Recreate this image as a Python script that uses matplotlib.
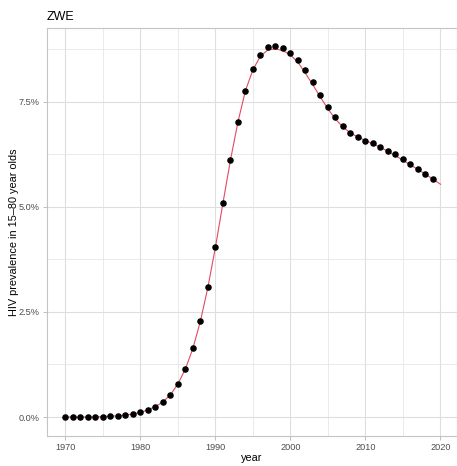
import matplotlib
matplotlib.use("Agg")
import matplotlib.pyplot as plt
from matplotlib.ticker import FuncFormatter, MultipleLocator

plt.rcParams["font.family"] = ["Liberation Sans", "DejaVu Sans"]

country = "ZWE"

# observed prevalence (%), one point per year
obs_years = list(range(1970, 2020))
obs_prev = [0.00, 0.00, 0.00, 0.00, 0.00, 0.01, 0.02, 0.03, 0.05, 0.07,
            0.11, 0.17, 0.25, 0.36, 0.53, 0.79, 1.15, 1.64, 2.29, 3.10,
            4.05, 5.10, 6.12, 7.03, 7.77, 8.29, 8.62, 8.80, 8.83, 8.78,
            8.67, 8.49, 8.25, 7.98, 7.67, 7.38, 7.13, 6.93, 6.76, 6.66,
            6.58, 6.51, 6.43, 6.34, 6.25, 6.13, 6.02, 5.91, 5.79, 5.67]

# fitted curve (%)
fit_years = list(range(1970, 2021))
fit_prev = [0.00, 0.00, 0.00, 0.00, 0.00, 0.01, 0.02, 0.03, 0.05, 0.07,
            0.11, 0.17, 0.25, 0.36, 0.53, 0.79, 1.15, 1.64, 2.29, 3.10,
            4.05, 5.10, 6.12, 7.03, 7.77, 8.27, 8.59, 8.74, 8.76, 8.72,
            8.62, 8.44, 8.18, 7.90, 7.61, 7.33, 7.09, 6.90, 6.76, 6.66,
            6.58, 6.50, 6.42, 6.32, 6.22, 6.11, 6.00, 5.89, 5.78, 5.66,
            5.54]

fig = plt.figure(figsize=(4.57, 4.66), dpi=100)
ax = fig.add_axes([0.1018, 0.065, 0.8982, 0.875])

ax.plot(fit_years, fit_prev, color="#e34a5f", lw=0.8, zorder=2)
ax.plot(obs_years, obs_prev, "o", color="black", ms=3.7, zorder=3)

ax.set_xlim(1967.47, 2022.2)
ax.set_ylim(-0.445, 9.26)

ax.xaxis.set_major_locator(MultipleLocator(10))
ax.xaxis.set_minor_locator(MultipleLocator(5))
ax.yaxis.set_major_locator(MultipleLocator(2.5))
ax.yaxis.set_minor_locator(MultipleLocator(1.25))
ax.yaxis.set_major_formatter(FuncFormatter(lambda v, p: "%.1f%%" % v))

ax.grid(which="major", color="#dedede", lw=0.8)
ax.grid(which="minor", color="#e6e6e6", lw=0.6)
ax.set_axisbelow(True)

for s in ax.spines.values():
    s.set_color("#c4c4c4")
    s.set_linewidth(0.8)

ax.tick_params(which="both", length=2.8, width=0.6, color="#b3b3b3",
               labelsize=6.6, labelcolor="#4d4d4d", pad=2.5)
ax.tick_params(which="minor", length=0)

ax.set_xlabel("year", fontsize=7.8, labelpad=1)
ax.set_ylabel("HIV prevalence in 15\u201380 year olds", fontsize=7.8)
ax.yaxis.set_label_coords(-0.066, 0.5)
ax.set_title(country, loc="left", fontsize=9, pad=6)

fig.savefig("out.png", dpi=100)
